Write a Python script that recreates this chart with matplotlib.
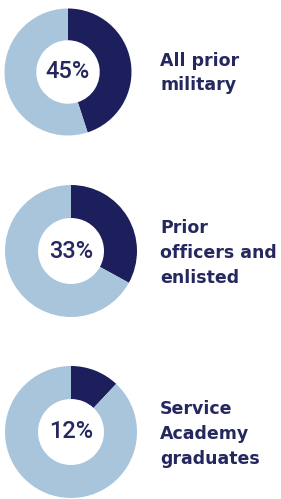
import matplotlib.pyplot as plt

# data
percents = [45, 33, 12]
labels = ["All prior\nmilitary", "Prior\nofficers and\nenlisted", "Service\nAcademy\ngraduates"]

dark = "#1c1f5c"
light = "#a9c5dc"
text_color = "#25285e"

W, H = 281, 499
fig = plt.figure(figsize=(W / 100, H / 100), dpi=100)
fig.patch.set_facecolor("white")

# donut centers and radii in pixels (x, y from top, r)
geom = [(68, 72, 63.5), (71, 251, 66), (71, 432, 66)]
label_y = [73, 253, 434]

for pct, lab, (cx, cy, r), ly in zip(percents, labels, geom, label_y):
    ax = fig.add_axes([(cx - r) / W, 1 - (cy + r) / H, 2 * r / W, 2 * r / H])
    ax.pie([pct, 100 - pct], colors=[dark, light], startangle=90, counterclock=False,
           radius=1, wedgeprops=dict(width=0.5, edgecolor="none"))
    ax.set_xlim(-1, 1)
    ax.set_ylim(-1, 1)
    ax.set_aspect("equal")
    ax.axis("off")
    ax.text(0, 0, f"{pct}%", ha="center", va="center", fontsize=17,
            color=text_color, family=["Roboto", "DejaVu Sans"], fontweight="medium")
    fig.text(160 / W, 1 - ly / H, lab, ha="left", va="center", fontsize=12.5,
             color=text_color, family="DejaVu Sans", fontweight="bold", linespacing=1.5)

fig.savefig("out.png", dpi=100, facecolor="white")
